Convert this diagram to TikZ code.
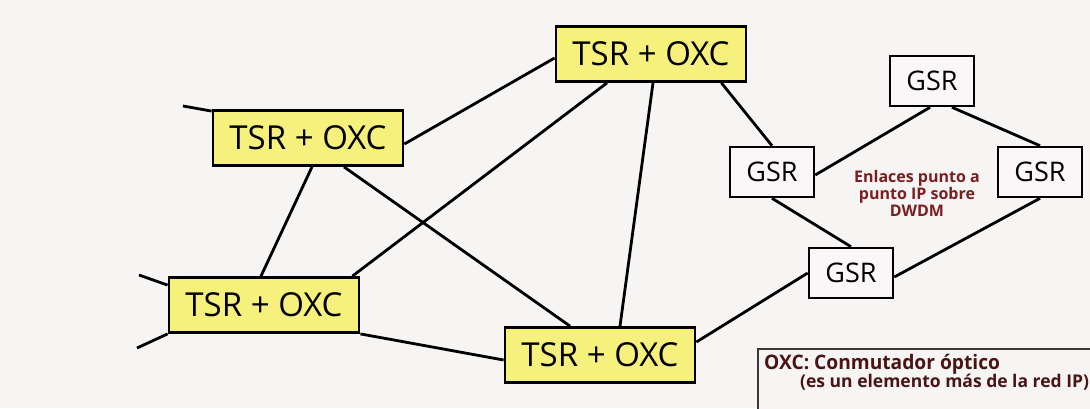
\documentclass[tikz,border=0pt]{standalone}
\usepackage{fontspec}
\setmainfont{Open Sans}
\usetikzlibrary{calc}
\definecolor{paper}{HTML}{F7F4F4}
\definecolor{tsryellow}{HTML}{F6F07C}
\definecolor{gsrfill}{HTML}{FBF7F8}
\definecolor{linkred}{HTML}{7A1E20}
\definecolor{legendink}{HTML}{4A1414}
\definecolor{legendline}{HTML}{3E3434}
\begin{document}
\begin{tikzpicture}[x=1pt,y=-1pt,
  link/.style={line width=2.8pt, draw=black},
  tsrbox/.style={draw=black, line width=2.8pt, fill=tsryellow,
    minimum width=190pt, minimum height=55pt, inner sep=0pt,
    font=\fontsize{33}{38}\selectfont},
  gsrbox/.style={draw=black, line width=2.6pt, fill=gsrfill,
    minimum width=84pt, minimum height=50pt, inner sep=0pt,
    font=\fontsize{27}{32}\selectfont},
  legendbox/.style={draw=legendline, line width=2pt, fill=paper,
    minimum width=370pt, minimum height=62pt, inner sep=0pt},
  legendtext/.style={text=legendink, inner sep=0pt, font=\bfseries},
  notetext/.style={text=linkred, align=center, inner sep=0pt,
    font=\fontsize{16}{17}\selectfont\bfseries},
]
% paper
\fill[paper] (0,0) rectangle (1090,408);
\useasboundingbox (0,0) rectangle (1090,408);
\clip (0,0) rectangle (1090,408);

% transport layer: label-switching routers with optical cross-connects
\node[tsrbox] (tsr1) at (308,138) {TSR + OXC};
\node[tsrbox] (tsr2) at (651,54)  {TSR + OXC};
\node[tsrbox] (tsr3) at (264,305) {TSR + OXC};
\node[tsrbox] (tsr4) at (600,355) {TSR + OXC};

% IP routers
\node[gsrbox] (gsrt) at (932,81)  {GSR};
\node[gsrbox] (gsrl) at (772,172) {GSR};
\node[gsrbox] (gsrr) at (1040,172) {GSR};
\node[gsrbox] (gsrb) at (851,273) {GSR};

% loose ends leaving the mesh
\coordinate (s1) at (183,106);
\coordinate (s2) at (139,275);
\coordinate (s3) at (137,348);

% mesh links
\draw[link] ([yshift=-6pt]tsr1.east) -- ([yshift=-4pt]tsr2.west);
\draw[link] ([xshift=4pt]tsr1.south) -- ([xshift=-3pt]tsr3.north);
\draw[link] ([xshift=36pt]tsr1.south) -- ([xshift=-30pt]tsr4.north);
\draw[link] ([xshift=-8pt]tsr3.north east) -- ([xshift=-44pt]tsr2.south);
\draw[link] (tsr3.south east) -- ([yshift=-5pt]tsr4.west);
\draw[link] ([xshift=2pt]tsr2.south) -- ([xshift=20pt]tsr4.north);
\draw[link] ([xshift=-26pt]tsr2.south east) -- (gsrl.north);
\draw[link] ([yshift=13pt]tsr4.east) -- (gsrb.west);
\draw[link] (s1) -- ([yshift=-2pt]tsr1.north west);
\draw[link] (s2) -- ([yshift=-9pt]tsr3.north west);
\draw[link] (s3) -- (tsr3.south west);

% point-to-point IP links
\draw[link] ([xshift=-2pt]gsrt.south) -- ([yshift=-3pt]gsrl.east);
\draw[link] ([xshift=20pt]gsrt.south) -- (gsrr.north);
\draw[link] (gsrl.south) -- (gsrb.north);
\draw[link] (gsrr.south) -- ([yshift=-4pt]gsrb.east);

\node[notetext] (note) at (917,193) {Enlaces punto a\\punto IP sobre\\DWDM};

% legend
\node[legendbox, anchor=north west] (legend) at (757,348) {};
\node[legendtext, anchor=base west, font=\fontsize{20}{22}\selectfont\bfseries]
  (leg1) at (764,369) {\scalebox{0.96}[1]{OXC: Conmutador óptico}};
\node[legendtext, anchor=base west, font=\fontsize{17.5}{20}\selectfont\bfseries]
  (leg2) at (800,387) {(es un elemento más de la red IP)};
\end{tikzpicture}
\end{document}
